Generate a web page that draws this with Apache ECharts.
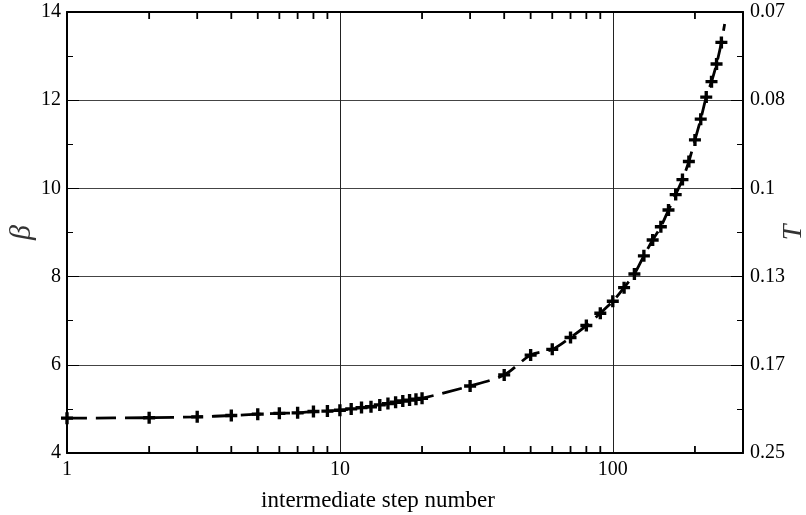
<!DOCTYPE html>
<html>
<head>
<meta charset="utf-8">
<script src="https://cdn.jsdelivr.net/npm/echarts@6/dist/echarts.min.js"></script>
<style>
html, body { margin: 0; padding: 0; background: #fff; }
#main { width: 806px; height: 515px; }
</style>
</head>
<body>
<div id="main"></div>
<script>
// step number and beta
var steps = [1, 2, 3, 4, 5, 6, 7, 8, 9, 10,
    11, 12, 13, 14, 15, 16, 17, 18, 19, 20,
    30, 40, 50, 60, 70, 80, 90, 100,
    110, 120, 130, 140, 150, 160, 170, 180, 190, 200,
    210, 220, 230, 240, 250];
var beta = [4.79, 4.80, 4.82, 4.85, 4.88, 4.90, 4.91, 4.94, 4.95, 4.97,
    5.00, 5.03, 5.05, 5.09, 5.12, 5.15, 5.18, 5.20, 5.22, 5.24,
    5.52, 5.77, 6.22, 6.35, 6.62, 6.89, 7.17, 7.44,
    7.75, 8.06, 8.47, 8.83, 9.13, 9.51, 9.86, 10.20, 10.61, 11.10,
    11.57, 12.07, 12.42, 12.82, 13.31];
// the dashed curve runs a little past the last marker
var curveSteps = steps.concat([257]);
var curveBeta = beta.concat([13.73]);

var xLabelValues = [1, 10, 100];
var xMinorValues = [2, 3, 4, 5, 6, 7, 8, 9, 20, 30, 40, 50, 60, 70, 80, 90, 200];
var betaTicks = [4, 6, 8, 10, 12, 14];
var tLabels = ['0.25', '0.17', '0.13', '0.1', '0.08', '0.07'];

var serif = 'Liberation Serif';
var plusPath = 'path://M3.6,0H6.4V3.6H10V6.4H6.4V10H3.6V6.4H0V3.6H3.6Z';

function zip(a, b) {
    var out = [];
    for (var i = 0; i < a.length; i++) {
        out.push([a[i], b[i]]);
    }
    return out;
}

// minor tick marks on the bottom edge and on the top edge
var yLow = betaTicks[0], yHigh = betaTicks[betaTicks.length - 1];
var minorTickData = [];
xMinorValues.forEach(function (v) {
    minorTickData.push([v, yLow]);
    minorTickData.push([v, yHigh]);
});

function renderMinorTick(params, api) {
    var p = api.coord([api.value(0), api.value(1)]);
    var up = api.value(1) === yLow;
    return {
        type: 'rect',
        shape: { x: p[0] - 0.9, y: up ? p[1] - 7 : p[1], width: 1.8, height: 7 },
        style: { fill: '#000' }
    };
}

var frameLine = { show: true, lineStyle: { color: '#000', width: 2 } };
var labelStyle = { color: '#000', fontFamily: serif, fontSize: 20 };

var myChart = echarts.init(document.getElementById('main'));
myChart.setOption({
    animation: false,
    backgroundColor: '#fff',
    grid: { left: 67, right: 63, top: 12, bottom: 62, containLabel: false, outerBoundsMode: 'none' },
    xAxis: [
        {
            type: 'log', logBase: 10, min: 1, max: 300, position: 'bottom',
            axisLine: frameLine,
            axisTick: { show: false, customValues: xLabelValues },
            axisLabel: Object.assign({ margin: 7, customValues: xLabelValues }, labelStyle),
            splitLine: { show: true, lineStyle: { color: '#222', width: 1 } },
            minorTick: { show: false }
        },
        {
            type: 'log', logBase: 10, min: 1, max: 300, position: 'top',
            axisLine: frameLine,
            axisTick: { show: false },
            axisLabel: { show: false },
            splitLine: { show: false }
        }
    ],
    yAxis: [
        {
            type: 'value', min: 4, max: 14, interval: 2, position: 'left',
            name: 'β', nameLocation: 'middle', nameRotate: 90, nameGap: 30, nameMoveOverlap: false,
            nameTextStyle: { fontFamily: serif, fontStyle: 'italic', fontSize: 30, color: '#333' },
            axisLine: frameLine,
            axisTick: { show: true, inside: true, length: 12, lineStyle: { color: '#000', width: 1 } },
            minorTick: { show: true, splitNumber: 2, length: 6, lineStyle: { color: '#000', width: 1 } },
            axisLabel: Object.assign({ margin: 6 }, labelStyle),
            splitLine: { show: true, lineStyle: { color: '#444', width: 1 } }
        },
        {
            type: 'value', min: 4, max: 14, interval: 2, position: 'right',
            name: 'T', nameLocation: 'middle', nameRotate: 90, nameGap: 37, nameMoveOverlap: false,
            nameTextStyle: { fontFamily: serif, fontStyle: 'italic', fontSize: 28, color: '#333' },
            axisLine: frameLine,
            axisTick: { show: true, inside: true, length: 12, lineStyle: { color: '#000', width: 1 } },
            minorTick: { show: true, splitNumber: 2, length: 6, lineStyle: { color: '#000', width: 1 } },
            axisLabel: Object.assign({
                margin: 7,
                formatter: function (v) { return tLabels[betaTicks.indexOf(v)]; }
            }, labelStyle),
            splitLine: { show: false }
        }
    ],
    graphic: [
        {
            type: 'text', x: 378, y: 501,
            style: {
                text: 'intermediate step number', fill: '#000',
                font: '23px "Liberation Serif"', textAlign: 'center', textVerticalAlign: 'middle'
            }
        }
    ],
    series: [
        {
            type: 'custom', xAxisIndex: 0, yAxisIndex: 0,
            data: minorTickData,
            renderItem: renderMinorTick,
            z: 5
        },
        {
            type: 'line', xAxisIndex: 0, yAxisIndex: 0,
            data: zip(curveSteps, curveBeta),
            smooth: 0.3, showSymbol: false, symbol: 'none',
            lineStyle: { color: '#000', width: 2.8, type: [20, 9] },
            z: 3
        },
        {
            type: 'scatter', xAxisIndex: 0, yAxisIndex: 0,
            data: zip(steps, beta),
            symbol: plusPath, symbolSize: 12,
            itemStyle: { color: '#000', opacity: 1 },
            z: 4
        }
    ]
});
</script>
</body>
</html>
